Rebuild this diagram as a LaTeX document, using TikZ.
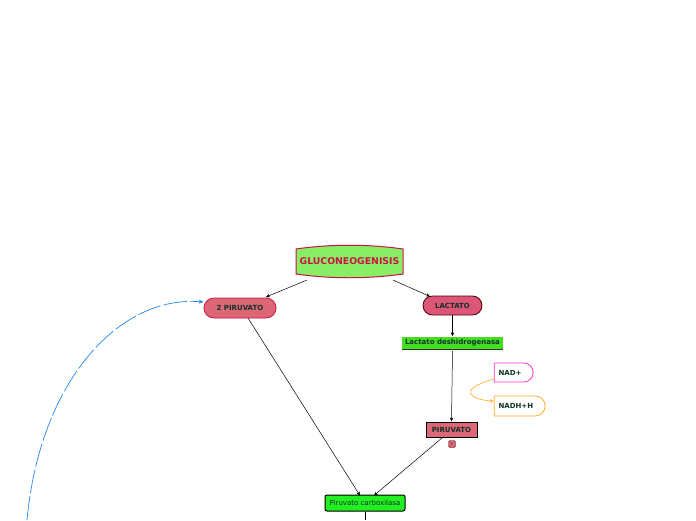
\documentclass[tikz,border=0pt]{standalone}
\usepackage{fontspec}
\setmainfont{DejaVu Sans}
\usetikzlibrary{shapes.misc,arrows.meta}
\definecolor{txt}{HTML}{0F3326}
\definecolor{crim}{HTML}{CC1144}
\definecolor{gluf}{HTML}{88EE66}
\definecolor{pinkf}{HTML}{DD6677}
\definecolor{lacf}{HTML}{DD5577}
\definecolor{ldhf}{HTML}{44DD22}
\definecolor{pcf}{HTML}{22EE22}
\definecolor{nadc}{HTML}{FF33CC}
\definecolor{nadhc}{HTML}{FFAA22}
\definecolor{bluec}{HTML}{2288EE}
\tikzset{
  lbl/.style={font=\fontsize{7}{8}\selectfont\bfseries, text=txt, inner sep=0pt},
  pill/.style={lbl, rounded rectangle, draw, line width=0.8pt},
  conn/.style={-{Stealth[length=4pt,width=3.5pt]}, line width=0.5pt, black},
}
\begin{document}
\begin{tikzpicture}[x=1pt,y=-1pt]
\useasboundingbox (0,0) rectangle (696,520);
% GLUCONEOGENISIS
\draw[crim, line width=1pt, fill=gluf]
  (296,249) .. controls (330,244) and (368,244) .. (403,249)
  -- (403,274) .. controls (368,279) and (330,279) .. (296,274) -- cycle;
\node[lbl, font=\fontsize{9.3}{10}\selectfont\bfseries, text=crim,
  minimum width=107pt, minimum height=26pt] (glu) at (349.5,261.5) {GLUCONEOGENISIS};
% 2 PIRUVATO
\node[pill, draw=crim, fill=pinkf, minimum width=72pt, minimum height=20pt] (pir2) at (240,308) {2 PIRUVATO};
% LACTATO
\node[pill, draw=black!70!red, fill=lacf, minimum width=59pt, minimum height=19pt] (lac) at (452.5,305.5) {LACTATO};
% Lactato deshidrogenasa
\node[lbl, fill=ldhf, minimum width=101pt, minimum height=13pt] (ldh) at (452.5,343) {Lactato deshidrogenasa};
\draw[black!80, line width=1.2pt] (ldh.south west) -- (ldh.south east);
% NAD+
\node[lbl, rounded rectangle, rounded rectangle west arc=none, draw=nadc, line width=0.8pt, fill=white,
  minimum width=39pt, minimum height=19pt, text width=30pt, align=left] (nad) at (513.5,372.5) {NAD+};
% NADH+H
\node[lbl, rounded rectangle, rounded rectangle west arc=none, draw=nadhc, line width=0.8pt, fill=white,
  minimum width=51pt, minimum height=20pt, text width=42pt, align=left] (nadh) at (519.5,406) {NADH+H};
% PIRUVATO
\node[lbl, draw=black, line width=1pt, fill=pinkf, minimum width=51pt, minimum height=15pt] (pir) at (451.5,429.5) {PIRUVATO};
\node[lbl, font=\fontsize{4}{4}\selectfont, draw=black!60!red, fill=pinkf, rounded corners=1.5pt,
  minimum width=7pt, minimum height=7pt] (one) at (452,444) {1};
% Piruvato carboxilasa
\node[lbl, font=\fontsize{7}{8}\selectfont, draw=black, line width=1pt, fill=pcf, rounded corners=2pt,
  minimum width=80pt, minimum height=16pt] (pc) at (365,503) {Piruvato carboxilasa};
\coordinate (pcend) at (365,520);
\coordinate (bstart) at (27,520);
% connectors
\draw[conn] (307,280) -- (pir2.north east |- 0,297) ;
\draw[conn] (393,280) -- (430,296.5);
\draw[conn] (lac.south) -- (ldh.north);
\draw[conn] (452.5,351) -- (pir.north);
\draw[conn] (pir.south) ++(-9,0) -- (374,495.5);
\draw[conn] (248,318) -- (360,495.5);
\draw[line width=0.5pt] (pc.south) -- (pcend);
\draw[nadhc, line width=0.6pt, -{Stealth[length=4pt,width=3.5pt]}]
  (nad.west |- 0,379) .. controls (455,390) and (472,400) .. (nadh.west |- 0,401);
\draw[bluec, line width=0.7pt, dash pattern=on 24pt off 3pt, -{Stealth[length=5pt,width=4pt]}]
  (bstart) .. controls (40,380) and (120,295) .. (pir2.west |- 0,302);
\end{tikzpicture}
\end{document}
